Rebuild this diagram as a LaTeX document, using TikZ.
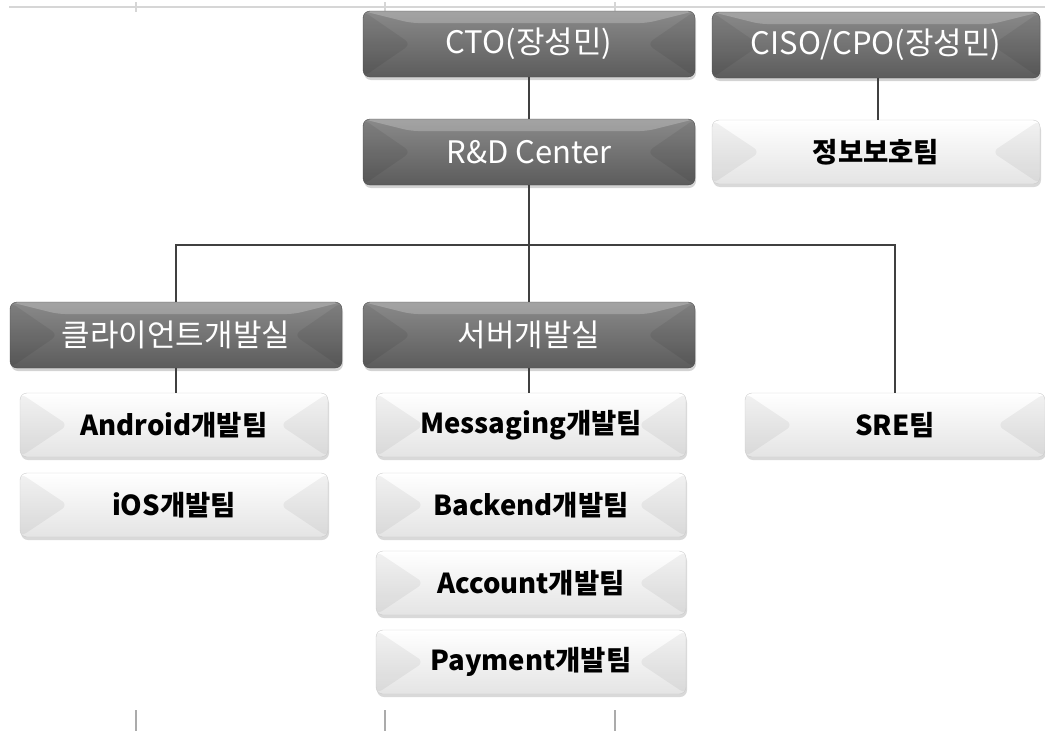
\documentclass[tikz,border=0pt]{standalone}
\usepackage{fontspec}
\newfontfamily\kr{Noto Sans CJK KR}
\usetikzlibrary{shadows}
\definecolor{headtop}{HTML}{8A8A8A}
\definecolor{headbot}{HTML}{5C5C5C}
\definecolor{teamtop}{HTML}{FFFFFF}
\definecolor{teambot}{HTML}{E4E4E4}
\definecolor{grid}{HTML}{D6D6D6}
\tikzset{
    >=latex,
    bevel/.style={
        path picture={
            \fill[black,opacity=#1] (path picture bounding box.north west) -- ([xshift=48pt]path picture bounding box.west) -- (path picture bounding box.south west) -- cycle;
            \fill[black,opacity=#1] (path picture bounding box.north east) -- ([xshift=-48pt]path picture bounding box.east) -- (path picture bounding box.south east) -- cycle;
            \fill[white,opacity=.22] (path picture bounding box.north west) -- ([xshift=48pt,yshift=-12pt]path picture bounding box.north west) -- ([xshift=-48pt,yshift=-12pt]path picture bounding box.north east) -- (path picture bounding box.north east) -- cycle;
        }
    },
    head/.style={rectangle,rounded corners=7pt,draw=headbot!80!black,minimum width=332pt,minimum height=66pt,
        top color=headtop,bottom color=headbot,bevel=.07,text=white,inner sep=0pt,
        font=\kr\fontsize{31}{34}\selectfont,
        drop shadow={opacity=.35,shadow xshift=1pt,shadow yshift=-3pt}},
    team/.style={rectangle,rounded corners=7pt,draw=black!20,minimum width=308pt,minimum height=64pt,
        top color=teamtop,bottom color=teambot,bevel=.05,text=black,inner sep=0pt,
        font=\kr\bfseries\fontsize{27.5}{31}\selectfont,
        drop shadow={opacity=.3,shadow xshift=1pt,shadow yshift=-3pt}},
    link/.style={draw=black!75,line width=1.6pt}
}

\begin{document}
\begin{tikzpicture}[x=1pt,y=-1pt]
    \useasboundingbox (0,0) rectangle (1045,731);
    % sheet grid
    \draw[grid,line width=1.5pt] (9,7) -- (1045,7);
    \foreach \gx in {136,385,615} {
        \draw[grid,line width=1.2pt] (\gx,2) -- (\gx,12);
        \draw[grid!80!black,line width=1.2pt] (\gx,710) -- (\gx,731);
    }

    \node[head] (cto) at (529,44) {CTO(장성민)};
    \node[head,minimum width=328pt] (ciso) at (876,45) {CISO/CPO(장성민)};
    \node[head] (rnd) at (529,152) {R\&D Center};
    \node[team,minimum width=328pt] (sec) at (876,152) {정보보호팀};

    \node[head] (client) at (176,335) {클라이언트개발실};
    \node[head] (server) at (529,335) {서버개발실};

    \node[team] (android) at (174,425) {Android개발팀};
    \node[team] (ios) at (174,505) {iOS개발팀};
    \node[team,minimum width=310pt] (msg) at (531,425) {Messaging개발팀};
    \node[team,minimum width=310pt] (backend) at (531,505) {Backend개발팀};
    \node[team,minimum width=310pt] (account) at (531,583) {Account개발팀};
    \node[team,minimum width=310pt] (payment) at (531,662) {Payment개발팀};
    \node[team,minimum width=300pt] (sre) at (895,425) {SRE팀};

    \coordinate (bus) at (529,245);
    \draw[link] (cto) -- (rnd);
    \draw[link] (ciso.south -| 878,0) -- (sec.north -| 878,0);
    \draw[link] (rnd.south) -- (server.north);
    \draw[link] (client.north) |- (bus) -| (sre.north);
    \draw[link] (client.south) -- (client.south |- android.north);
    \draw[link] (server.south) -- (msg.north -| server.south);
\end{tikzpicture}
\end{document}
